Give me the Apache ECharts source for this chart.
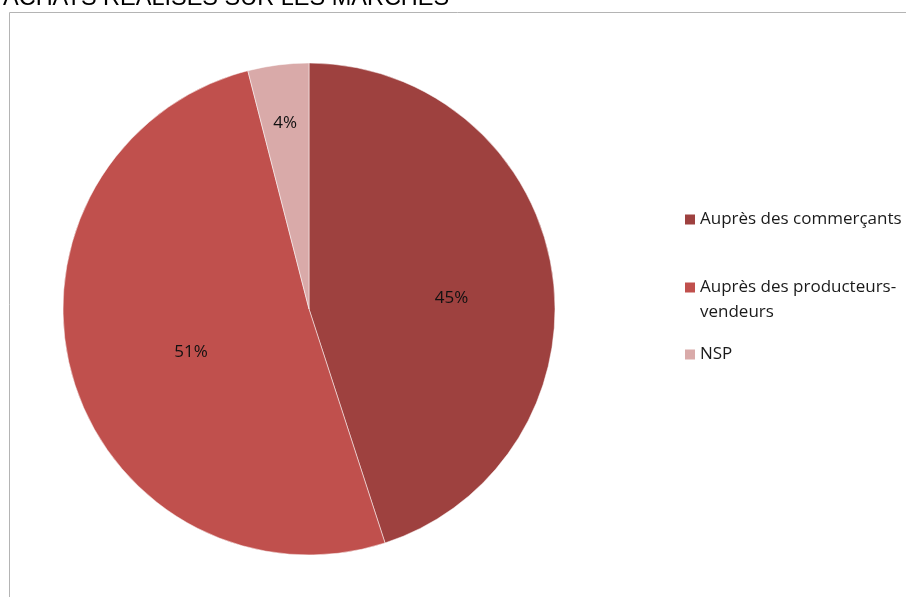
<!DOCTYPE html>
<html>
<head>
<meta charset="utf-8">
<script src="https://cdn.jsdelivr.net/npm/echarts@6/dist/echarts.min.js"></script>
<style>
  html, body { margin: 0; padding: 0; background: #fff; }
  #chart { width: 906px; height: 597px; }
</style>
</head>
<body>
<div id="chart"></div>
<script>
// Achats réalisés sur les marchés — répartition par type de vendeur
const chartTitle = 'ACHATS RÉALISÉS SUR LES MARCHÉS';
const categories = ['Auprès des commerçants', 'Auprès des producteurs-vendeurs', 'NSP'];
const shares = [45, 51, 4];
const colors = ['#9E413F', '#C0504D', '#D9AAA9'];

const FONT = '"Open Sans", Lato, sans-serif';

// legend text: the long category wraps after the hyphen; a blank first line
// keeps the square marker level with the first line of text
const legendText = {
  'Auprès des commerçants': 'Auprès des commerçants',
  'Auprès des producteurs-vendeurs': ' \nAuprès des producteurs-\nvendeurs',
  'NSP': 'NSP'
};
const legendTops = [207, 250, 342];

// small nudges that move each percentage off the mid-radius point
const labelNudge = [[18, 9], [3, 8], [-8, -61]];

const chart = echarts.init(document.getElementById('chart'));

chart.setOption({
  animation: false,
  color: colors,
  title: {
    text: chartTitle,
    left: -2,
    top: -18,
    textStyle: { fontFamily: '"Liberation Sans", Arial, sans-serif', fontSize: 23.5, fontWeight: 'normal', color: '#000' }
  },
  graphic: [
    {
      type: 'polyline',
      shape: { points: [[9.5, 597], [9.5, 12.5], [906, 12.5]] },
      style: { stroke: '#b4b4b4', lineWidth: 1, fill: null },
      silent: true
    }
  ],
  legend: categories.map((name, i) => ({
    data: [name],
    orient: 'vertical',
    left: 685,
    top: legendTops[i],
    padding: 0,
    icon: 'rect',
    itemWidth: 10,
    itemHeight: 10,
    itemGap: 0,
    itemStyle: { borderWidth: 0 },
    selectedMode: false,
    formatter: n => legendText[n],
    textStyle: { fontFamily: FONT, fontSize: 17, color: '#1a1a1a', lineHeight: 25 }
  })),
  series: [{
    type: 'pie',
    center: [309, 309],
    radius: 246,
    startAngle: 90,
    clockwise: true,
    avoidLabelOverlap: false,
    label: {
      show: true,
      position: 'inside',
      formatter: p => p.value + '%',
      fontFamily: FONT,
      fontSize: 17,
      color: '#111'
    },
    labelLayout: p => ({ dx: labelNudge[p.dataIndex][0], dy: labelNudge[p.dataIndex][1] }),
    labelLine: { show: false },
    itemStyle: { borderColor: '#fff', borderWidth: 0.5 },
    emphasis: { disabled: true },
    data: categories.map((name, i) => ({ name, value: shares[i] }))
  }]
});
</script>
</body>
</html>
